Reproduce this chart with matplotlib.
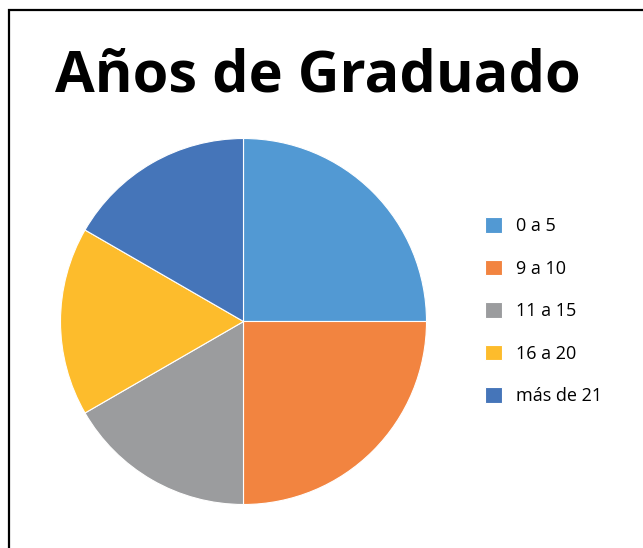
import matplotlib
matplotlib.use("Agg")
import matplotlib.pyplot as plt
from matplotlib.patches import Rectangle

# data
labels = ['0 a 5', '9 a 10', '11 a 15', '16 a 20', 'más de 21']
values = [3, 3, 2, 2, 2]
colors = ['#5299D3', '#F28440', '#9B9C9E', '#FDBC2C', '#4575B9']
title = 'Años de Graduado'

W, H = 643, 548
fig = plt.figure(figsize=(W / 100, H / 100), dpi=100)

# chart frame (runs off the right and bottom edge)
fig.patches.append(Rectangle((8.5 / W, -0.1), 1.2, 1 - 10.5 / H + 0.1, transform=fig.transFigure,
                             fill=False, edgecolor='black', linewidth=1.6))

# pie area in pixels
cx, cy, r = 243.5, 321.5, 183
ax = fig.add_axes([(cx - r) / W, (H - cy - r) / H, 2 * r / W, 2 * r / H])
wedges, _ = ax.pie(values, colors=colors, startangle=90, counterclock=False, radius=1,
                   wedgeprops=dict(edgecolor='white', linewidth=0.8))
ax.set_xlim(-1, 1)
ax.set_ylim(-1, 1)
ax.set_aspect('equal')
ax.axis('off')

fig.text(318 / W, 1 - 77 / H, title, ha='center', va='center', fontsize=41.5,
         fontweight='bold', family='Open Sans')

leg = fig.legend(wedges, labels, loc='upper left', bbox_to_anchor=(469 / W, 1 - 201 / H),
                 frameon=False, prop=dict(family='Open Sans', size=13),
                 handlelength=0.95, handleheight=0.95, handletextpad=0.75, labelspacing=1.36)

fig.savefig('out.png', dpi=100)
